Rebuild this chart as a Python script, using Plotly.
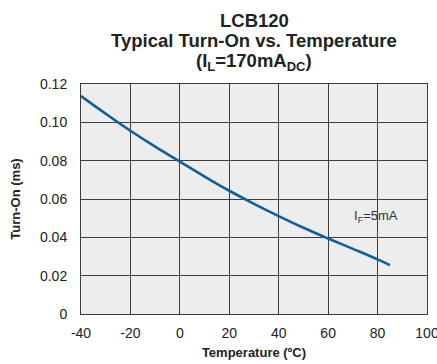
import plotly.graph_objects as go

temp_c = [-40, -30, -20, -10, 0, 10, 20, 30, 40, 50, 60, 70, 80, 85]
turn_on_ms = [0.1137, 0.1045, 0.0956, 0.0873, 0.0795, 0.0717, 0.0643, 0.0575,
              0.0511, 0.0450, 0.0394, 0.0340, 0.0285, 0.0255]

x_ticks = [-40, -20, 0, 20, 40, 60, 80, 100]
x_tick_labels = ["-40", "-20", "0", "20", "40", "60", "80", "100"]
y_ticks = [0, 0.02, 0.04, 0.06, 0.08, 0.10, 0.12]
y_tick_labels = ["0", "0.02", "0.04", "0.06", "0.08", "0.10", "0.12"]

title_lines = ["LCB120", "Typical Turn-On vs. Temperature",
               "(I<sub>L</sub>=170mA<sub>DC</sub>)"]
series_label = "I<sub>F</sub>=5mA"

font = "Liberation Sans, Arial, sans-serif"
grid = "#3c3c3c"

W, H = 437, 364
T, B = 84, 50
plot_h = H - T - B

fig = go.Figure()
fig.add_trace(go.Scatter(x=temp_c, y=turn_on_ms, mode="lines",
                         line=dict(color="#0f5f9c", width=2.6, shape="spline"),
                         showlegend=False, hoverinfo="skip"))

fig.update_layout(
    width=W, height=H,
    margin=dict(l=81, r=10, t=T, b=B),
    paper_bgcolor="white", plot_bgcolor="#ededed",
    font=dict(family=font, size=14, color="#222"),
    xaxis=dict(range=[-40, 100.0001], tickvals=x_ticks, ticktext=x_tick_labels,
               showgrid=True, gridcolor=grid, gridwidth=1, zeroline=False,
               showline=True, linecolor=grid, linewidth=1, mirror=True,
               automargin=False,
               ticks="", ticklabelstandoff=6, ticklabeloverflow="allow",
               tickfont=dict(size=14, color="#222"),
               title=dict(text="<b>Temperature (ºC)</b>", font=dict(size=13, color="#222"), standoff=8)),
    yaxis=dict(range=[0, 0.12], tickvals=y_ticks, ticktext=y_tick_labels,
               showgrid=True, gridcolor=grid, gridwidth=1, zeroline=False,
               showline=True, linecolor=grid, linewidth=1, mirror=True,
               automargin=False,
               ticks="", ticklabelstandoff=10, tickfont=dict(size=14, color="#222"),
               title=dict(text="<b>Turn-On (ms)</b>", font=dict(size=13, color="#222"), standoff=16)),
)

for line, yy in zip(title_lines, [20, 41, 62]):
    fig.add_annotation(text="<b>" + line + "</b>", xref="x domain", yref="paper",
                       x=0.5, y=1 + (T - yy) / plot_h, showarrow=False,
                       yanchor="middle", xanchor="center",
                       font=dict(size=18.5, color="#222"))

fig.add_annotation(text=series_label, x=79.5, y=0.0508, xref="x", yref="y",
                   showarrow=False, font=dict(size=13, color="#333"))

fig.write_html("out.html")
